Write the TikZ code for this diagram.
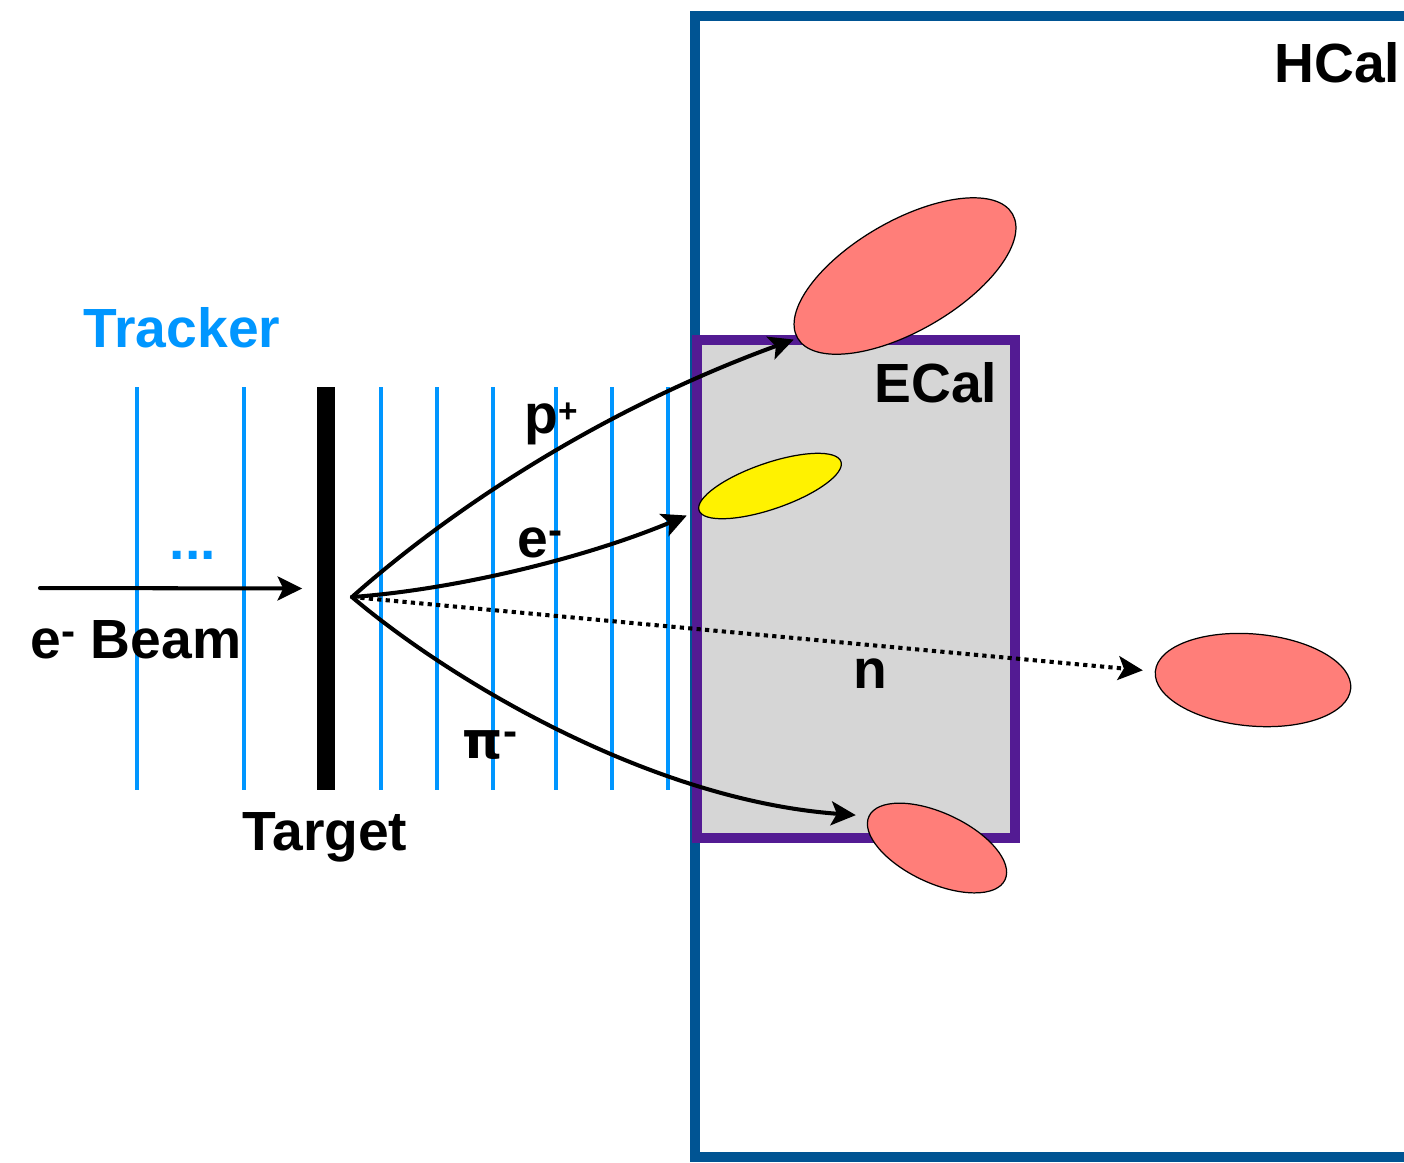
\documentclass[tikz,border=0pt]{standalone}
\usepackage{fontspec}
\setmainfont{Liberation Sans}
\newfontfamily\greekfont{DejaVu Sans}
\usetikzlibrary{arrows.meta,shapes.geometric}
\definecolor{hcalblue}{RGB}{0,84,147}
\definecolor{ecalpurple}{RGB}{83,27,147}
\definecolor{ecalgray}{RGB}{214,214,214}
\definecolor{trackblue}{RGB}{0,150,255}
\definecolor{showerred}{RGB}{255,126,121}
\newcommand{\chplus}{\raisebox{2.9pt}{\fontsize{9.5}{9.5}\selectfont +}}
\newcommand{\chminus}{\raisebox{3.6pt}{\fontsize{12}{12}\selectfont -}}

\begin{document}
\begin{tikzpicture}[x=0.01cm,y=-0.01cm]
\tikzset{
  tagtext/.style={font=\fontsize{15.7}{18}\selectfont\bfseries,inner sep=0pt,anchor=base},
  trackerline/.style={draw=trackblue,line width=1pt},
  targetbar/.style={rectangle,fill=black,inner sep=0pt,minimum width=0.18cm,minimum height=4.03cm},
  shower/.style={ellipse,draw=black,line width=0.35pt,fill=showerred,inner sep=0pt},
  particle/.style={draw=black,line width=1.15pt,line cap=round,-{Stealth[length=7pt,width=6.8pt,inset=1.6pt]}},
  neutral/.style={particle,line cap=butt,dash pattern=on 1.2pt off 1.2pt}
}
\useasboundingbox (0,0) rectangle (1404,1162);
% HCal and ECal
\draw[hcalblue,line width=3.1pt] (695,16) rectangle (1460,1157);
\node[tagtext,anchor=base east] (n_hcal) at (1401,82) {HCal};
\draw[ecalpurple,fill=ecalgray,line width=3.1pt] (697,340) rectangle (1015,838);
\node[tagtext,anchor=base east] (n_ecal) at (998,402) {ECal};
% tracker planes and target
\foreach \x in {137,244,381,437,493,556,612,668}
  \draw[trackerline] (\x,387) -- (\x,790);
\node[targetbar] (target) at (326,588.5) {};
\node[tagtext,text=trackblue] (n_tracker) at (182,347) {Tracker};
\node[tagtext,text=trackblue] (n_dots) at (193,559) {...};
\node[tagtext] (n_target) at (325,850) {Target};
\node[tagtext] (n_beam) at (136,658) {e\chminus{} Beam};
% showers
\node[shower,minimum width=2.48cm,minimum height=1.10cm,rotate=30] (showerP) at (905,276) {};
\node[shower,fill=yellow,minimum width=1.5cm,minimum height=0.46cm,rotate=19] (showerE) at (770,486) {};
\node[shower,minimum width=1.5cm,minimum height=0.70cm,rotate=-25] (showerPi) at (937,848) {};
\node[shower,minimum width=1.96cm,minimum height=0.92cm,rotate=-5] (showerN) at (1253,680) {};
% tracks
\coordinate (beamstart) at (40,588);
\coordinate (vtx) at (352,597);
\draw[particle,shorten >=4pt] (beamstart) -- (target);
\draw[particle,shorten >=1pt] (vtx) .. controls (450,510) and (600,410) .. (showerP.west);
\draw[particle,shorten >=3.6pt] (vtx) .. controls (450,590) and (580,560) .. (showerE.west);
\draw[particle,shorten >=3.6pt] (vtx) .. controls (450,680) and (650,800) .. (showerPi.west);
\draw[neutral,shorten >=3.4pt] (vtx) -- (showerN.west);
\node[tagtext] (n_p) at (551,433) {p\chplus};
\node[tagtext] (n_e) at (540,557) {e\chminus};
\node[tagtext] (n_pi) at (490,758) {{\greekfont\fontsize{14.5}{18}\selectfont π}\chminus};
\node[tagtext] (n_n) at (870,688) {n};
\end{tikzpicture}
\end{document}
